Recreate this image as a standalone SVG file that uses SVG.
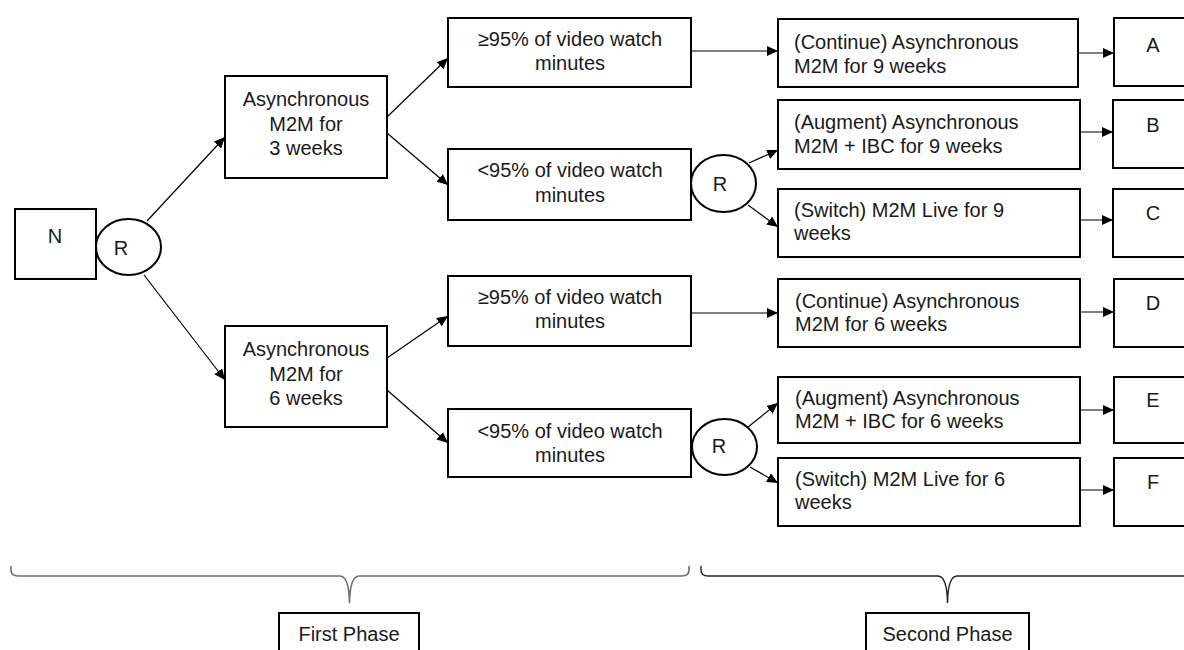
<svg xmlns="http://www.w3.org/2000/svg" width="1184" height="650" viewBox="0 0 1184 650">
<style>
.box{fill:#fff;stroke:#000;stroke-width:2}
.circ{fill:#fff;stroke:#000;stroke-width:2}
.t{font-family:"Liberation Sans",Arial,sans-serif;font-size:20px;fill:#1a1a1a}
.c{text-anchor:middle}
.con{stroke:#000;stroke-width:1.2;fill:none;marker-end:url(#ah)}
.brace1{fill:none;stroke:#6e6e6e;stroke-width:1.6}
.brace2{fill:none;stroke:#222;stroke-width:1.4}
</style>
<defs>
<marker id="ah" markerUnits="userSpaceOnUse" markerWidth="11" markerHeight="10" refX="11" refY="5" orient="auto">
<path d="M0,0 L11,5 L0,10 z" fill="#000"/>
</marker>
</defs>
<rect width="1184" height="650" fill="#fff"/>
<g id="connectors">
<line class="con" x1="147" y1="221" x2="225" y2="137"/>
<line class="con" x1="144" y1="275" x2="225" y2="380"/>
<line class="con" x1="387" y1="117" x2="448" y2="58"/>
<line class="con" x1="387" y1="133" x2="448" y2="185"/>
<line class="con" x1="691" y1="51" x2="778" y2="51"/>
<line class="con" x1="749" y1="163" x2="778" y2="150"/>
<line class="con" x1="748" y1="205" x2="778" y2="227"/>
<line class="con" x1="1078" y1="53" x2="1114" y2="53"/>
<line class="con" x1="1080" y1="132" x2="1113" y2="132"/>
<line class="con" x1="1080" y1="220" x2="1113" y2="220"/>
<line class="con" x1="387" y1="358" x2="448" y2="316"/>
<line class="con" x1="387" y1="390" x2="448" y2="443"/>
<line class="con" x1="691" y1="313" x2="778" y2="313"/>
<line class="con" x1="748" y1="427" x2="778" y2="403"/>
<line class="con" x1="750" y1="467" x2="778" y2="483"/>
<line class="con" x1="1080" y1="312" x2="1114" y2="312"/>
<line class="con" x1="1080" y1="410" x2="1114" y2="410"/>
<line class="con" x1="1080" y1="490" x2="1114" y2="490"/>
</g>
<g id="node-N"><rect class="box" x="15" y="209" width="81" height="70"/><text class="t c" x="55" y="243">N</text></g>
<g id="node-R1"><ellipse class="circ" cx="128.5" cy="247" rx="32.5" ry="28"/><text class="t c" x="121" y="255">R</text></g>
<g id="node-async3"><rect class="box" x="225" y="76" width="162" height="102"/>
<text class="t c" x="306" y="106">Asynchronous</text><text class="t c" x="306" y="131">M2M for</text><text class="t c" x="306" y="155">3 weeks</text></g>
<g id="node-async6"><rect class="box" x="225" y="326" width="162" height="101"/>
<text class="t c" x="306" y="356">Asynchronous</text><text class="t c" x="306" y="381">M2M for</text><text class="t c" x="306" y="405">6 weeks</text></g>
<g id="node-ge95a"><rect class="box" x="448" y="18" width="243" height="69"/>
<text class="t c" x="570" y="46">≥95% of video watch</text><text class="t c" x="570" y="70">minutes</text></g>
<g id="node-lt95a"><rect class="box" x="448" y="149" width="243" height="71"/>
<text class="t c" x="570" y="177">&lt;95% of video watch</text><text class="t c" x="570" y="202">minutes</text></g>
<g id="node-ge95b"><rect class="box" x="448" y="276" width="243" height="70"/>
<text class="t c" x="570" y="304">≥95% of video watch</text><text class="t c" x="570" y="328">minutes</text></g>
<g id="node-lt95b"><rect class="box" x="448" y="409" width="243" height="68"/>
<text class="t c" x="570" y="438">&lt;95% of video watch</text><text class="t c" x="570" y="462">minutes</text></g>
<g id="node-R2"><ellipse class="circ" cx="723.5" cy="183.5" rx="32.5" ry="28.5"/><text class="t c" x="720" y="191">R</text></g>
<g id="node-R3"><ellipse class="circ" cx="724.5" cy="447" rx="32.5" ry="28"/><text class="t c" x="719" y="453">R</text></g>
<g id="node-cont9"><rect class="box" x="778" y="19" width="300" height="68"/>
<text class="t" x="794" y="49">(Continue) Asynchronous</text><text class="t" x="794" y="73">M2M for 9 weeks</text></g>
<g id="node-aug9"><rect class="box" x="778" y="100" width="302" height="69"/>
<text class="t" x="794" y="129">(Augment) Asynchronous</text><text class="t" x="794" y="153">M2M + IBC for 9 weeks</text></g>
<g id="node-sw9"><rect class="box" x="778" y="189" width="302" height="68"/>
<text class="t" x="794" y="217">(Switch) M2M Live for 9</text><text class="t" x="794" y="240">weeks</text></g>
<g id="node-cont6"><rect class="box" x="778" y="279" width="302" height="68"/>
<text class="t" x="795" y="308">(Continue) Asynchronous</text><text class="t" x="795" y="331">M2M for 6 weeks</text></g>
<g id="node-aug6"><rect class="box" x="778" y="377" width="302" height="66"/>
<text class="t" x="795" y="405">(Augment) Asynchronous</text><text class="t" x="795" y="428">M2M + IBC for 6 weeks</text></g>
<g id="node-sw6"><rect class="box" x="778" y="458" width="302" height="68"/>
<text class="t" x="795" y="486">(Switch) M2M Live for 6</text><text class="t" x="795" y="509">weeks</text></g>
<g id="node-A"><rect class="box" x="1114" y="18" width="90" height="68"/><text class="t c" x="1153" y="52">A</text></g>
<g id="node-B"><rect class="box" x="1113" y="100" width="90" height="68"/><text class="t c" x="1153" y="132">B</text></g>
<g id="node-C"><rect class="box" x="1113" y="189" width="90" height="68"/><text class="t c" x="1153" y="220">C</text></g>
<g id="node-D"><rect class="box" x="1114" y="279" width="90" height="68"/><text class="t c" x="1153" y="310">D</text></g>
<g id="node-E"><rect class="box" x="1114" y="377" width="90" height="66"/><text class="t c" x="1153" y="407">E</text></g>
<g id="node-F"><rect class="box" x="1114" y="458" width="90" height="68"/><text class="t c" x="1153" y="489">F</text></g>
<g id="braces">
<path class="brace1" d="M11,566 L11,570 Q11,576 18,576 L340,576 Q349,576 349.5,603 Q350,576 359,576 L682,576 Q689,576 689,570 L689,566"/>
<path class="brace2" d="M701,566 L701,570 Q701,576 708,576 L938,576 Q947,576 947.5,603 Q948,576 957,576 L1190,576"/>
</g>
<g id="node-phase1"><rect class="box" x="279" y="613" width="140" height="50"/><text class="t c" x="349" y="641">First Phase</text></g>
<g id="node-phase2"><rect class="box" x="866" y="613" width="163" height="50"/><text class="t c" x="947.5" y="641">Second Phase</text></g>
</svg>
